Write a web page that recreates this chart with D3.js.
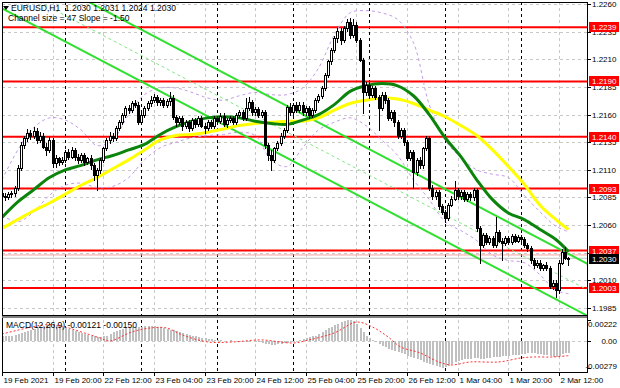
<!DOCTYPE html>
<html>
<head>
<meta charset="utf-8">
<script src="https://cdn.jsdelivr.net/npm/d3@7"></script>
<style>
  body { margin: 0; background: #fff; }
  text { font-family: "Liberation Sans", Arial, sans-serif; font-size: 8px; fill: #000; }
</style>
</head>
<body>
<svg id="chart" width="620" height="388"></svg>
<script>
// EURUSD H1, one row per bar: [open, high, low, close]
const candles = [
  [1.2089,1.2092,1.2084,1.2086],[1.2086,1.2089,1.2083,1.2085],[1.2085,1.2090,1.2084,1.2088],[1.2088,1.2091,1.2085,1.2089],
  [1.2089,1.2095,1.2086,1.2094],[1.2094,1.2114,1.2092,1.2112],[1.2112,1.2135,1.2110,1.2132],[1.2132,1.2141,1.2130,1.2139],
  [1.2139,1.2147,1.2136,1.2143],[1.2143,1.2146,1.2138,1.2141],[1.2141,1.2149,1.2139,1.2145],[1.2145,1.2148,1.2134,1.2137],
  [1.2137,1.2144,1.2135,1.2141],[1.2141,1.2143,1.2130,1.2131],[1.2131,1.2134,1.2123,1.2128],[1.2128,1.2140,1.2126,1.2137],
  [1.2137,1.2139,1.2113,1.2116],[1.2116,1.2123,1.2113,1.2121],[1.2121,1.2122,1.2114,1.2117],[1.2117,1.2122,1.2115,1.2119],
  [1.2119,1.2128,1.2117,1.2126],[1.2126,1.2129,1.2120,1.2122],[1.2122,1.2131,1.2121,1.2128],[1.2128,1.2130,1.2119,1.2122],
  [1.2122,1.2124,1.2116,1.2119],[1.2119,1.2125,1.2117,1.2123],[1.2123,1.2125,1.2114,1.2117],[1.2117,1.2122,1.2115,1.2121],
  [1.2121,1.2123,1.2111,1.2114],[1.2114,1.2116,1.2101,1.2105],[1.2105,1.2112,1.2092,1.2110],[1.2110,1.2121,1.2107,1.2119],
  [1.2119,1.2131,1.2117,1.2130],[1.2130,1.2139,1.2128,1.2137],[1.2137,1.2144,1.2134,1.2141],[1.2141,1.2143,1.2136,1.2139],
  [1.2139,1.2150,1.2137,1.2148],[1.2148,1.2155,1.2146,1.2153],[1.2153,1.2161,1.2151,1.2160],[1.2160,1.2168,1.2158,1.2166],
  [1.2166,1.2169,1.2161,1.2164],[1.2164,1.2172,1.2162,1.2170],[1.2170,1.2173,1.2167,1.2169],[1.2169,1.2171,1.2151,1.2153],
  [1.2153,1.2161,1.2151,1.2160],[1.2160,1.2168,1.2158,1.2166],[1.2166,1.2172,1.2164,1.2170],[1.2170,1.2177,1.2168,1.2173],
  [1.2173,1.2179,1.2171,1.2176],[1.2176,1.2178,1.2169,1.2171],[1.2171,1.2175,1.2169,1.2173],[1.2173,1.2175,1.2167,1.2169],
  [1.2169,1.2174,1.2167,1.2172],[1.2172,1.2180,1.2169,1.2175],[1.2175,1.2178,1.2156,1.2158],[1.2158,1.2160,1.2150,1.2153],
  [1.2153,1.2159,1.2151,1.2157],[1.2157,1.2159,1.2146,1.2150],[1.2150,1.2155,1.2148,1.2153],[1.2153,1.2155,1.2145,1.2148],
  [1.2148,1.2157,1.2146,1.2155],[1.2155,1.2157,1.2149,1.2151],[1.2151,1.2159,1.2150,1.2157],[1.2157,1.2159,1.2149,1.2150],
  [1.2150,1.2152,1.2143,1.2148],[1.2148,1.2155,1.2146,1.2153],[1.2153,1.2155,1.2148,1.2150],[1.2150,1.2159,1.2148,1.2157],
  [1.2157,1.2159,1.2152,1.2154],[1.2154,1.2161,1.2152,1.2159],[1.2159,1.2161,1.2150,1.2151],[1.2151,1.2157,1.2149,1.2155],
  [1.2155,1.2159,1.2153,1.2157],[1.2157,1.2159,1.2151,1.2153],[1.2153,1.2161,1.2151,1.2160],[1.2160,1.2164,1.2158,1.2162],
  [1.2162,1.2164,1.2155,1.2157],[1.2157,1.2175,1.2155,1.2166],[1.2166,1.2176,1.2164,1.2171],[1.2171,1.2173,1.2160,1.2162],
  [1.2162,1.2167,1.2160,1.2165],[1.2165,1.2167,1.2158,1.2160],[1.2160,1.2164,1.2158,1.2162],[1.2162,1.2164,1.2130,1.2132],
  [1.2132,1.2134,1.2119,1.2123],[1.2123,1.2128,1.2110,1.2119],[1.2119,1.2131,1.2117,1.2130],[1.2130,1.2136,1.2128,1.2134],
  [1.2134,1.2143,1.2132,1.2141],[1.2141,1.2148,1.2139,1.2146],[1.2146,1.2169,1.2144,1.2167],[1.2167,1.2170,1.2160,1.2162],
  [1.2162,1.2170,1.2160,1.2169],[1.2169,1.2171,1.2162,1.2164],[1.2164,1.2171,1.2162,1.2169],[1.2169,1.2171,1.2160,1.2162],
  [1.2162,1.2168,1.2160,1.2166],[1.2166,1.2168,1.2157,1.2160],[1.2160,1.2166,1.2158,1.2164],[1.2164,1.2175,1.2162,1.2173],
  [1.2173,1.2179,1.2171,1.2177],[1.2177,1.2186,1.2175,1.2184],[1.2184,1.2198,1.2182,1.2196],[1.2196,1.2209,1.2194,1.2208],
  [1.2208,1.2220,1.2206,1.2218],[1.2218,1.2231,1.2217,1.2229],[1.2229,1.2238,1.2226,1.2236],[1.2236,1.2238,1.2224,1.2227],
  [1.2227,1.2240,1.2226,1.2238],[1.2238,1.2246,1.2236,1.2244],[1.2244,1.2247,1.2229,1.2232],[1.2232,1.2246,1.2230,1.2241],
  [1.2241,1.2244,1.2226,1.2227],[1.2227,1.2229,1.2208,1.2209],[1.2209,1.2211,1.2161,1.2180],[1.2180,1.2189,1.2178,1.2187],
  [1.2187,1.2189,1.2175,1.2178],[1.2178,1.2186,1.2176,1.2184],[1.2184,1.2186,1.2174,1.2176],[1.2176,1.2178,1.2146,1.2166],
  [1.2166,1.2180,1.2164,1.2178],[1.2178,1.2180,1.2170,1.2173],[1.2173,1.2175,1.2155,1.2157],[1.2157,1.2164,1.2155,1.2162],
  [1.2162,1.2164,1.2150,1.2153],[1.2153,1.2155,1.2139,1.2141],[1.2141,1.2148,1.2139,1.2146],[1.2146,1.2148,1.2132,1.2135],
  [1.2135,1.2137,1.2119,1.2121],[1.2121,1.2128,1.2119,1.2126],[1.2126,1.2128,1.2094,1.2108],[1.2108,1.2121,1.2105,1.2119],
  [1.2119,1.2122,1.2112,1.2114],[1.2114,1.2131,1.2112,1.2130],[1.2130,1.2141,1.2128,1.2139],[1.2139,1.2141,1.2092,1.2094],
  [1.2094,1.2096,1.2084,1.2086],[1.2086,1.2092,1.2084,1.2090],[1.2090,1.2092,1.2075,1.2077],[1.2077,1.2079,1.2070,1.2072],
  [1.2072,1.2074,1.2063,1.2066],[1.2066,1.2080,1.2065,1.2078],[1.2078,1.2086,1.2077,1.2084],[1.2084,1.2100,1.2083,1.2092],
  [1.2092,1.2094,1.2084,1.2086],[1.2086,1.2092,1.2084,1.2090],[1.2090,1.2092,1.2082,1.2084],[1.2084,1.2090,1.2082,1.2088],
  [1.2088,1.2090,1.2083,1.2085],[1.2085,1.2094,1.2083,1.2092],[1.2092,1.2094,1.2055,1.2057],[1.2057,1.2059,1.2026,1.2042],
  [1.2042,1.2053,1.2040,1.2051],[1.2051,1.2053,1.2043,1.2045],[1.2045,1.2050,1.2043,1.2048],[1.2048,1.2050,1.2040,1.2042],
  [1.2042,1.2067,1.2040,1.2054],[1.2054,1.2056,1.2045,1.2046],[1.2046,1.2048,1.2028,1.2044],[1.2044,1.2050,1.2042,1.2048],
  [1.2048,1.2050,1.2043,1.2045],[1.2045,1.2052,1.2043,1.2050],[1.2050,1.2052,1.2045,1.2046],[1.2046,1.2051,1.2045,1.2049],
  [1.2049,1.2051,1.2046,1.2047],[1.2047,1.2049,1.2040,1.2042],[1.2042,1.2044,1.2037,1.2039],[1.2039,1.2041,1.2026,1.2028],
  [1.2028,1.2030,1.2021,1.2024],[1.2024,1.2028,1.2022,1.2026],[1.2026,1.2028,1.2019,1.2021],[1.2021,1.2025,1.2019,1.2024],
  [1.2024,1.2027,1.2019,1.2021],[1.2021,1.2023,1.2003,1.2005],[1.2005,1.2010,1.2002,1.2008],[1.2008,1.2010,1.1995,1.2001],
  [1.2001,1.2028,1.1999,1.2026],[1.2026,1.2038,1.2025,1.2036],[1.2036,1.2040,1.2029,1.2030],[1.2030,1.2031,1.2024,1.2030]
];

const priceTicks = [1.2260,1.2235,1.2210,1.2185,1.2160,1.2135,1.2110,1.2085,1.2060,1.2035,1.2010,1.1985];
const levels = [1.2239,1.2190,1.2140,1.2093,1.2037,1.2003];
const bid = 1.2030;
const ask = 1.2033;

const timeTickBars = [0,16,32,48,64,80,96,112,128,144,160,176];
const timeLabels = ["19 Feb 2021","19 Feb 20:00","22 Feb 12:00","23 Feb 04:00","23 Feb 20:00","24 Feb 12:00",
                    "25 Feb 04:00","25 Feb 20:00","26 Feb 12:00","1 Mar 04:00","1 Mar 20:00","2 Mar 12:00"];
const daySepBars = [20,44,68,92,116,140,164];

// indicator lines, read every 5 bars
const lineBars = [0,5,10,15,20,25,30,35,40,45,50,55,60,65,70,75,80,85,90,95,100,105,110,115,120,125,130,135,140,145,150,155,160,165,170,175,179];
const maGreen = [1.2067,1.2081,1.2092,1.2103,1.2110,1.2114,1.2119,1.2123,1.2128,1.2133,1.2142,1.2149,1.2154,1.2157,1.2158,1.2157,1.2154,1.2152,1.2151,1.2155,
                 1.2160,1.2169,1.2181,1.2186,1.2188,1.2186,1.2177,1.2160,1.2139,1.2122,1.2101,1.2083,1.2071,1.2065,1.2056,1.2047,1.2036];
const maYellow = [1.2057,1.2065,1.2073,1.2080,1.2088,1.2096,1.2103,1.2111,1.2119,1.2128,1.2137,1.2141,1.2142,1.2144,1.2147,1.2150,1.2152,1.2153,1.2154,1.2154,
                  1.2157,1.2164,1.2170,1.2173,1.2175,1.2174,1.2170,1.2164,1.2158,1.2150,1.2141,1.2128,1.2113,1.2097,1.2078,1.2065,1.2056];
const bandUpper = [1.2101,1.2128,1.2148,1.2157,1.2155,1.2146,1.2132,1.2137,1.2160,1.2178,1.2184,1.2184,1.2180,1.2175,1.2173,1.2177,1.2180,1.2178,1.2178,1.2184,
                   1.2202,1.2232,1.2252,1.2254,1.2252,1.2246,1.2225,1.2169,1.2137,1.2121,1.2110,1.2106,1.2103,1.2087,1.2072,1.2059,1.2054];
const bandLower = [1.2069,1.2063,1.2072,1.2087,1.2096,1.2098,1.2094,1.2095,1.2103,1.2119,1.2130,1.2135,1.2139,1.2141,1.2142,1.2144,1.2141,1.2119,1.2113,1.2130,
                   1.2146,1.2153,1.2157,1.2150,1.2137,1.2123,1.2101,1.2083,1.2063,1.2055,1.2046,1.2033,1.2028,1.2026,1.2015,1.2001,1.1998];

// regression channel: upper line anchors, width in price
const channelBars = [20, 179];
const channelUpper = [1.2273, 1.2034];
const channelSize = 0.0047;

// MACD(12,26,9) main values per bar and signal line samples
const macd = [
  0.0005,0.0005,0.0006,0.0006,0.0007,0.0008,0.0009, 0.0010,0.0011,0.0012,0.0013,0.0014,0.0015,
  0.0016,0.0017,0.0018,0.0018,0.0017, 0.0016,0.0015,0.0014,0.0013,0.0012,
  0.0011,0.0010,0.0009,0.0008,0.0007,0.0006, 0.0005,0.0004,0.0004,0.0005,0.0006,
  0.0008,0.0010,0.0011,0.0012,0.0013, 0.0014,0.0014,0.0015,0.0015,0.0015,0.0015,
  0.0016,0.0016,0.0016,0.0016,0.0015,0.0015, 0.0014,0.0013,0.0012,0.0012,0.0011,
  0.0010,0.0009,0.0008,0.0007,0.0006,0.0005, 0.0004,0.0003,0.0003,0.0002,0.0002,0.0001,
  0.0001,0.0001,0.0000,0.0000,0.0001,0.0000, 0.0000,-0.0001,0.0000,-0.0001,-0.0001,0.0000,-0.0001,-0.0001,
  -0.0002,-0.0003,-0.0003,-0.0004,-0.0004,-0.0003,-0.0003, -0.0002,-0.0002,-0.0001,-0.0001,0.0000,
  0.0001,0.0002,0.0003,0.0004,0.0005, 0.0006,0.0008,0.0010,0.0012,0.0014,0.0015,
  0.0017,0.0018,0.0020,0.0021,0.00222,0.0022, 0.0021,0.0018,0.0014,0.0010,
  0.0006,0.0003,0.0001,-0.0001, -0.0003,-0.0005,-0.0006,-0.0008,-0.0009,-0.0010,
  -0.0011,-0.0012,-0.0013,-0.0015,-0.0016,-0.0017, -0.0019,-0.0020,-0.0022,-0.0023,-0.0024,-0.0025,
  -0.0026,-0.0027,-0.00279,-0.0027, -0.0026,-0.0024,-0.0022,-0.0021,-0.0020,-0.0019,
  -0.0018,-0.0018,-0.0017,-0.0017,-0.0018,-0.0018, -0.0017,-0.0017,-0.0016,-0.0016,-0.0016,-0.0015,
  -0.0015,-0.0015,-0.0014,-0.0014,-0.0014,-0.0013, -0.0013,-0.0012,-0.0012,-0.0012,-0.0013,-0.0013,
  -0.0014,-0.0014,-0.0015,-0.0016,-0.0016, -0.0015,-0.0013,-0.0012,-0.00121
];
const signalBars = [0,13,17,21,26,31,34,41,47,52,57,65,73,82,92,97,105,112,117,122,126,132,138,142,148,157,164,168,174,179];
const signalVals = [0.00076,0.0017,0.0017,0.00139,0.00087,0.00034,0.00003,0.00097,0.00139,0.00139,0.00066,-0.00007,-0.00007,0.00014,-0.00018,
                    0.00014,0.00087,0.0020,0.0015,0.00045,-0.0006,-0.0012,-0.00216,-0.00247,-0.00216,-0.00216,-0.00174,-0.00164,-0.00164,-0.0015];
const macdLabels = [0.00222, 0, -0.00279];

const W = 620, H = 388;
const left = 2, right = 587, mainTop = 2, mainBottom = 315, subTop = 318, subBottom = 372;

const x = d3.scaleLinear().domain([0, 176]).range([2, 559]);
const y = d3.scaleLinear().domain([1.1985, 1.2260]).range([308, 4]);
const ym = d3.scaleLinear().domain([-0.00279, 0.00222]).range([368, 320]);

const svg = d3.select("#chart");
svg.append("rect").attr("width", W).attr("height", H).attr("fill", "#fff");

svg.append("clipPath").attr("id", "mainClip")
  .append("rect").attr("x", left).attr("y", mainTop).attr("width", right - left).attr("height", mainBottom - mainTop);
svg.append("clipPath").attr("id", "subClip")
  .append("rect").attr("x", left).attr("y", subTop).attr("width", right - left).attr("height", subBottom - subTop);

// grid
const grid = svg.append("g").attr("shape-rendering", "crispEdges");
priceTicks.forEach(p => {
  const yy = Math.round(y(p)) + 0.5;
  if (yy < mainTop || yy > mainBottom) return;
  grid.append("line").attr("x1", left).attr("x2", right).attr("y1", yy).attr("y2", yy)
    .attr("stroke", "#c8c8c8").attr("stroke-dasharray", "3,3");
});
timeTickBars.forEach(b => {
  const xx = Math.round(x(b)) + 0.5;
  grid.append("line").attr("x1", xx).attr("x2", xx).attr("y1", mainTop).attr("y2", subBottom)
    .attr("stroke", "#c8c8c8").attr("stroke-dasharray", "3,3");
});
grid.append("line").attr("x1", left).attr("x2", right)
  .attr("y1", Math.round(ym(0)) + 0.5).attr("y2", Math.round(ym(0)) + 0.5)
  .attr("stroke", "#c8c8c8").attr("stroke-dasharray", "3,3");
daySepBars.forEach(b => {
  const xx = Math.round(x(b)) + 0.5;
  grid.append("line").attr("x1", xx).attr("x2", xx).attr("y1", mainTop).attr("y2", subBottom)
    .attr("stroke", "#000").attr("stroke-dasharray", "3,3");
});

const main = svg.append("g").attr("clip-path", "url(#mainClip)");

// horizontal levels
levels.forEach(p => {
  main.append("line").attr("x1", left).attr("x2", right).attr("y1", y(p)).attr("y2", y(p))
    .attr("stroke", "#ff0000").attr("stroke-width", 2);
});
main.append("line").attr("x1", left).attr("x2", right).attr("y1", y(ask)).attr("y2", y(ask))
  .attr("stroke", "#f4a0a0").attr("stroke-width", 1);
main.append("line").attr("x1", left).attr("x2", right).attr("y1", y(bid)).attr("y2", y(bid))
  .attr("stroke", "#c0c0c0").attr("stroke-width", 1);

// bands
const bandLine = vals => d3.line().curve(d3.curveCatmullRom)
  .x((d, i) => x(lineBars[i])).y(d => y(d))(vals);
[bandUpper, bandLower].forEach(v => {
  main.append("path").attr("d", bandLine(v)).attr("fill", "none")
    .attr("stroke", "#c39be6").attr("stroke-width", 1).attr("stroke-dasharray", "3,3");
});

// channel
const slope = (channelUpper[1] - channelUpper[0]) / (channelBars[1] - channelBars[0]);
const chan = off => [-10, 200].map(b => [x(b), y(channelUpper[0] + slope * (b - channelBars[0]) - off)]);
main.append("path").attr("d", d3.line()(chan(0))).attr("stroke", "#2fe02f").attr("stroke-width", 2).attr("fill", "none");
main.append("path").attr("d", d3.line()(chan(channelSize))).attr("stroke", "#2fe02f").attr("stroke-width", 2).attr("fill", "none");
main.append("path").attr("d", d3.line()(chan(channelSize / 2))).attr("stroke", "#7fe87f").attr("stroke-width", 1)
  .attr("stroke-dasharray", "3,3").attr("fill", "none");

// moving averages
main.append("path").attr("d", bandLine(maYellow)).attr("fill", "none").attr("stroke", "#ffff00").attr("stroke-width", 3);
main.append("path").attr("d", bandLine(maGreen)).attr("fill", "none").attr("stroke", "#0a840a").attr("stroke-width", 3);

// candles
const bars = main.append("g").attr("shape-rendering", "crispEdges");
candles.forEach((c, i) => {
  const [o, h, l, cl] = c;
  const cx = Math.round(x(i));
  bars.append("line").attr("x1", cx + 0.5).attr("x2", cx + 0.5)
    .attr("y1", Math.round(y(h))).attr("y2", Math.round(y(l)) + 1).attr("stroke", "#000");
  const top = Math.round(y(Math.max(o, cl)));
  const bot = Math.round(y(Math.min(o, cl)));
  if (cl >= o) {
    bars.append("rect").attr("x", cx - 0.5).attr("y", top + 0.5).attr("width", 2).attr("height", Math.max(bot - top, 1))
      .attr("fill", "#fff").attr("stroke", "#000");
  } else {
    bars.append("rect").attr("x", cx - 1).attr("y", top).attr("width", 3).attr("height", Math.max(bot - top, 1) + 1)
      .attr("fill", "#000");
  }
});

// MACD
const sub = svg.append("g").attr("clip-path", "url(#subClip)");
sub.append("g").attr("shape-rendering", "crispEdges").selectAll("rect").data(macd).join("rect")
  .attr("x", (d, i) => Math.round(x(i)) - 0.5).attr("width", 2)
  .attr("y", d => Math.min(ym(d), ym(0))).attr("height", d => Math.abs(ym(d) - ym(0)))
  .attr("fill", "#c0c0c0");
sub.append("path")
  .attr("d", d3.line().curve(d3.curveCatmullRom).x((d, i) => x(signalBars[i])).y(d => ym(d))(signalVals))
  .attr("fill", "none").attr("stroke", "#ff3030").attr("stroke-width", 1).attr("stroke-dasharray", "2,2");

// frames
const fr = svg.append("g").attr("shape-rendering", "crispEdges");
fr.append("line").attr("x1", left + 0.5).attr("x2", left + 0.5).attr("y1", mainTop).attr("y2", subBottom).attr("stroke", "#000");
fr.append("line").attr("x1", left).attr("x2", right).attr("y1", mainTop + 0.5).attr("y2", mainTop + 0.5).attr("stroke", "#000");
fr.append("rect").attr("x", left).attr("y", mainBottom).attr("width", right - left).attr("height", 3).attr("fill", "#808080");
fr.append("line").attr("x1", left).attr("x2", right).attr("y1", mainBottom + 0.5).attr("y2", mainBottom + 0.5).attr("stroke", "#000");
fr.append("line").attr("x1", right + 0.5).attr("x2", right + 0.5).attr("y1", mainTop).attr("y2", subBottom + 1).attr("stroke", "#000");
fr.append("line").attr("x1", left).attr("x2", right + 1).attr("y1", subBottom + 0.5).attr("y2", subBottom + 0.5).attr("stroke", "#000");

// price axis (1.2035 sits under the level labels, so only its tick is drawn)
priceTicks.forEach(p => {
  const yy = Math.round(y(p));
  fr.append("line").attr("x1", right).attr("x2", right + 4).attr("y1", yy + 0.5).attr("y2", yy + 0.5).attr("stroke", "#000");
  if (levels.some(l => Math.abs(l - p) < 0.0003)) return;
  svg.append("text").attr("x", 592).attr("y", yy + 3).text(p.toFixed(4));
});
levels.forEach(p => {
  const yy = Math.round(y(p));
  svg.append("rect").attr("x", 589).attr("y", yy - 5).attr("width", 30).attr("height", 10).attr("fill", "#ff0000");
  svg.append("text").attr("x", 592).attr("y", yy + 3).style("fill", "#fff").text(p.toFixed(4));
});
{
  const yy = Math.round(y(bid));
  svg.append("rect").attr("x", 589).attr("y", yy - 4).attr("width", 30).attr("height", 10).attr("fill", "#000");
  svg.append("text").attr("x", 592).attr("y", yy + 4).style("fill", "#fff").text(bid.toFixed(4));
}
// MACD axis
macdLabels.forEach((v, i) => {
  const yy = [324, 341, 366][i];
  fr.append("line").attr("x1", right).attr("x2", right + 4).attr("y1", Math.round(ym(v)) + 0.5).attr("y2", Math.round(ym(v)) + 0.5).attr("stroke", "#000");
  svg.append("text").attr("x", 617).attr("y", yy + 3).attr("text-anchor", "end")
    .text(v === 0 ? "0.00" : v.toFixed(5));
});

// time axis
timeTickBars.forEach((b, i) => {
  const xx = Math.round(x(b)) + 0.5;
  fr.append("line").attr("x1", xx).attr("x2", xx).attr("y1", subBottom).attr("y2", subBottom + 4).attr("stroke", "#000");
  svg.append("text").attr("x", xx + 1).attr("y", 383).text(timeLabels[i]);
});

// titles
svg.append("path").attr("d", "M3,6 L9,6 L6,10 Z").attr("fill", "#000");
svg.append("text").attr("x", 11).attr("y", 11).attr("xml:space", "preserve").style("font-size", "8.5px")
  .text("EURUSD,H1  1.2030 1.2031 1.2024 1.2030");
svg.append("text").attr("x", 8).attr("y", 21).style("font-size", "8.5px").text("Channel size = 47 Slope = -1.50");
svg.append("text").attr("x", 6).attr("y", 328).style("font-size", "8.5px").text("MACD(12,26,9) -0.00121 -0.00150");
</script>
</body>
</html>
